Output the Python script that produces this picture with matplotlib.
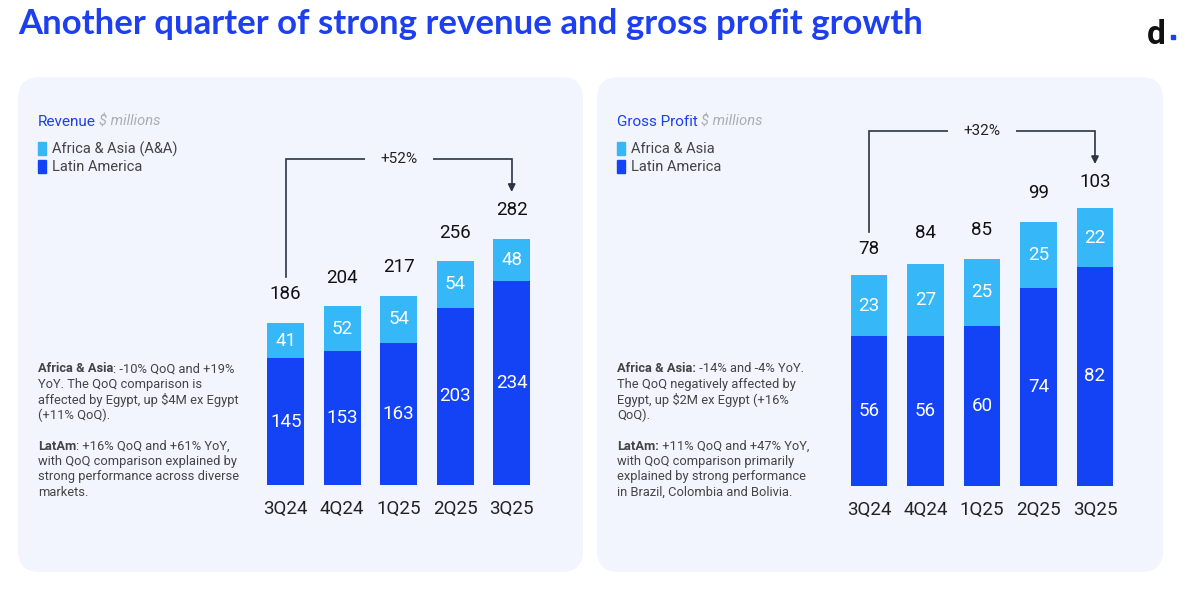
import matplotlib.pyplot as plt
from matplotlib.patches import FancyBboxPatch, Rectangle

plt.rcParams['font.family'] = ['Roboto', 'DejaVu Sans']

# data
quarters = ['3Q24', '4Q24', '1Q25', '2Q25', '3Q25']
rev_latam = [145, 153, 163, 203, 234]
rev_aa = [41, 52, 54, 54, 48]
rev_total = [186, 204, 217, 256, 282]
gp_latam = [56, 56, 60, 74, 82]
gp_aa = [23, 27, 25, 25, 22]
gp_total = [78, 84, 85, 99, 103]
rev_growth = '+52%'
gp_growth = '+32%'

LIGHT = '#35b7f8'
DARK = '#1443f5'
PANEL = '#f2f5fe'
TITLE_BLUE = '#1d3ff0'
TEXT = '#444444'

W, H = 1200, 595
fig = plt.figure(figsize=(W / 100, H / 100), dpi=100)
fig.patch.set_facecolor('white')


def fx(x):
    return x / W


def fy(y):
    return 1 - y / H


# title, scaled to match the reference width
title = fig.text(fx(18), fy(24), 'Another quarter of strong revenue and gross profit growth',
                 fontsize=23, color=TITLE_BLUE, family=['Lato', 'DejaVu Sans'], weight='bold',
                 va='center', ha='left')
fig.canvas.draw()
r = fig.canvas.get_renderer()
tw = title.get_window_extent(r).width
title.set_fontsize(23 * 907 / tw)

# logo
fig.text(fx(1156), fy(35), 'd', fontsize=24, weight='bold', color='#111111', ha='center', va='center')
fig.patches.append(Rectangle((fx(1171), fy(39)), 4 / W, 4 / H, transform=fig.transFigure,
                             color=DARK, zorder=3))

# panels
for x0, x1 in [(18, 583), (597, 1163)]:
    p = FancyBboxPatch((fx(x0), fy(572)), (x1 - x0) / W, (572 - 77) / H,
                       boxstyle='round,pad=0,rounding_size=0.018', transform=fig.transFigure,
                       facecolor=PANEL, edgecolor='none', zorder=-1, mutation_aspect=W / H)
    fig.patches.append(p)


def rich_line(x, y, parts, size=9.3):
    # parts: list of (text, weight)
    cur = x
    for txt, wt in parts:
        t = fig.text(cur / W, fy(y), txt, fontsize=size, weight=wt, color=TEXT, va='center', ha='left')
        fig.canvas.draw()
        ext = t.get_window_extent(fig.canvas.get_renderer())
        cur = ext.x1


def header(x, name, legend_a):
    t = fig.text(fx(x), fy(122), name, fontsize=11, color=TITLE_BLUE, va='center', ha='left')
    fig.canvas.draw()
    e = t.get_window_extent(fig.canvas.get_renderer())
    fig.text(e.x1 / W + 3 / W, fy(122), '$ millions', fontsize=10.5, style='italic', color='#a8adb8',
             va='center', ha='left')
    for yy, col, lab in [(149, LIGHT, legend_a), (167, DARK, 'Latin America')]:
        fig.patches.append(Rectangle((fx(x), fy(yy + 6)), 8 / W, 13 / H, transform=fig.transFigure,
                                     color=col, zorder=3))
        fig.text(fx(x + 14), fy(yy), lab, fontsize=10.5, color=TEXT, va='center', ha='left')


header(38, 'Revenue', 'Africa & Asia (A&A)')
header(617, 'Gross Profit', 'Africa & Asia')

left_notes = [
    [('Africa & Asia', 'bold'), (': -10% QoQ and +19%', 'normal')],
    [('YoY. The QoQ comparison is', 'normal')],
    [('affected by Egypt, up $4M ex Egypt', 'normal')],
    [('(+11% QoQ).', 'normal')],
    None,
    [('LatAm', 'bold'), (': +16% QoQ and +61% YoY,', 'normal')],
    [('with QoQ comparison explained by', 'normal')],
    [('strong performance across diverse', 'normal')],
    [('markets.', 'normal')],
]
right_notes = [
    [('Africa & Asia:', 'bold'), (' -14% and -4% YoY.', 'normal')],
    [('The QoQ negatively affected by', 'normal')],
    [('Egypt, up $2M ex Egypt (+16%', 'normal')],
    [('QoQ).', 'normal')],
    None,
    [('LatAm:', 'bold'), (' +11% QoQ and +47% YoY,', 'normal')],
    [('with QoQ comparison primarily', 'normal')],
    [('explained by strong performance', 'normal')],
    [('in Brazil, Colombia and Bolivia.', 'normal')],
]
for x, notes in [(38, left_notes), (617, right_notes)]:
    for i, ln in enumerate(notes):
        if ln:
            rich_line(x, 369 + i * 15.4, ln)


def bar_chart(ax_left, ax_right, top_px, bottom_px, c0, ppu, latam, aa, total, growth):
    step = 56.5
    ax = fig.add_axes([fx(ax_left), fy(bottom_px), (ax_right - ax_left) / W, (bottom_px - top_px) / H])
    ax.set_zorder(2)
    ax.set_xlim(-(c0 - ax_left) / step, (ax_right - c0) / step)
    ax.set_ylim(0, (bottom_px - top_px) / ppu)
    ax.patch.set_alpha(0)
    for s in ax.spines.values():
        s.set_visible(False)
    x = range(len(quarters))
    bw = 36.7 / step
    ax.bar(x, latam, width=bw, color=DARK, zorder=2)
    ax.bar(x, aa, width=bw, bottom=latam, color=LIGHT, zorder=2)
    for i in x:
        ax.text(i, latam[i] / 2, str(latam[i]), color='white', fontsize=13.5, ha='center', va='center')
        ax.text(i, latam[i] + aa[i] / 2, str(aa[i]), color='white', fontsize=13.5, ha='center', va='center')
        ax.text(i, total[i] + 29 / ppu, str(total[i]), color='#111111', fontsize=13.5, ha='center',
                va='center')
    ax.set_xticks(list(x))
    ax.set_xticklabels(quarters, fontsize=13.5, color='#222222')
    ax.tick_params(axis='x', length=0, pad=11)
    ax.set_yticks([])
    # growth bracket
    n = len(quarters) - 1
    y_start = total[0] + 46 / ppu
    y_top = total[n] + 80 / ppu
    y_tip = total[n] + 47 / ppu
    lc = '#2b3445'
    ax.plot([0, 0, n, n], [y_start, y_top, y_top, y_tip + 6 / ppu], color=lc, lw=1.2, zorder=3,
            solid_joinstyle='miter', clip_on=False)
    ax.annotate('', xy=(n, y_tip), xytext=(n, y_tip + 8 / ppu),
                arrowprops=dict(arrowstyle='-|>', color=lc, lw=1.2, mutation_scale=11,
                                shrinkA=0, shrinkB=0), annotation_clip=False)
    ax.text(n / 2, y_top, growth, fontsize=11, color='#222222', ha='center', va='center', zorder=4,
            bbox=dict(boxstyle='square,pad=1.0', facecolor=PANEL, edgecolor='none'))
    return ax


bar_chart(250, 548, 140, 485, 285.7, 162.3 / 186, rev_latam, rev_aa, rev_total, rev_growth)
bar_chart(830, 1135, 110, 485.7, 869, 208 / 78, gp_latam, gp_aa, gp_total, gp_growth)

fig.savefig('out.png', dpi=100, facecolor='white')
